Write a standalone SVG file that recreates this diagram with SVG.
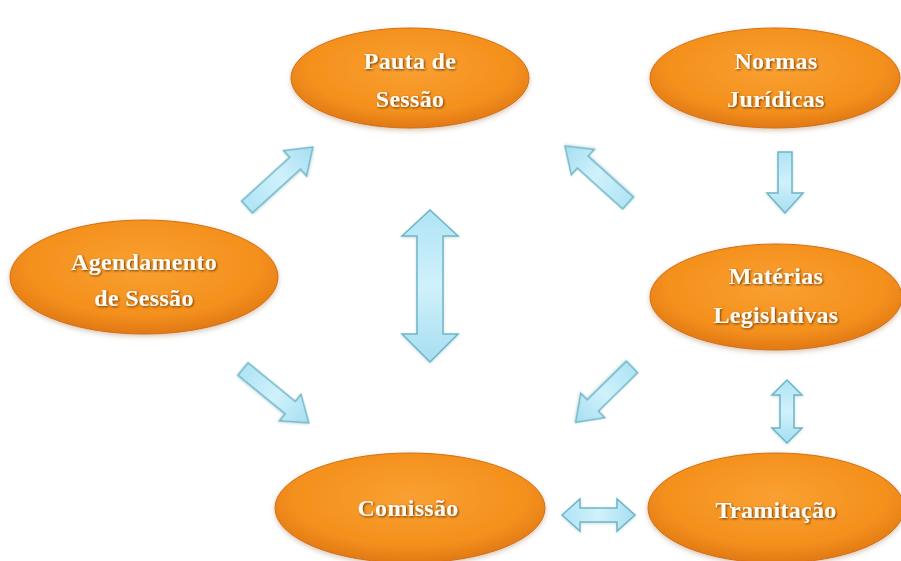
<svg xmlns="http://www.w3.org/2000/svg" width="901" height="561" viewBox="0 0 901 561">
<defs>
  <radialGradient id="og" cx="0.5" cy="0.4" r="0.62">
    <stop offset="0" stop-color="#f9a032"/>
    <stop offset="0.7" stop-color="#f4901c"/>
    <stop offset="1" stop-color="#df7615"/>
  </radialGradient>
  <linearGradient id="bg" x1="0" y1="0" x2="1" y2="0">
    <stop offset="0" stop-color="#b0e4f5"/>
    <stop offset="0.5" stop-color="#d0f1fb"/>
    <stop offset="1" stop-color="#a6def1"/>
  </linearGradient>
  <linearGradient id="bgv" x1="0" y1="0" x2="0" y2="1">
    <stop offset="0" stop-color="#b0e4f5"/>
    <stop offset="0.5" stop-color="#d0f1fb"/>
    <stop offset="1" stop-color="#a6def1"/>
  </linearGradient>
  <filter id="sh" x="-10%" y="-10%" width="120%" height="130%">
    <feDropShadow dx="0" dy="2" stdDeviation="2.5" flood-color="#8a5a2a" flood-opacity="0.35"/>
  </filter>
  <filter id="ts" x="-10%" y="-20%" width="120%" height="150%">
    <feDropShadow dx="1" dy="1" stdDeviation="0.8" flood-color="#5a2a00" flood-opacity="0.85"/>
  </filter>
  <filter id="as" x="-20%" y="-20%" width="140%" height="140%">
    <feDropShadow dx="0" dy="1" stdDeviation="1.5" flood-color="#6a9aa8" flood-opacity="0.35"/>
  </filter>
</defs>
<style>
  .node ellipse { fill: url(#og); stroke: #d26f18; stroke-width: 1; filter: url(#sh); }
  .node text { font-family: "Liberation Serif", "Times New Roman", serif; font-weight: bold; font-size: 24px; letter-spacing: 0.3px; fill: #fffaf0; text-anchor: middle; filter: url(#ts); }
  .arr { fill: url(#bg); stroke: #6db6c6; stroke-width: 1.5; stroke-linejoin: miter; filter: url(#as); }
  .arrv { fill: url(#bgv); stroke: #6db6c6; stroke-width: 1.5; filter: url(#as); }
</style>
<rect width="901" height="561" fill="#ffffff"/>

<g id="connectors">
  <path class="arr" transform="translate(247,207) rotate(-42.3)" d="M0,-8 L65,-8 L65,-17 L89,0 L65,17 L65,8 L0,8 Z"/>
  <path class="arr" transform="translate(628,203) rotate(-137.9)" d="M0,-8 L61,-8 L61,-17 L85,0 L61,17 L61,8 L0,8 Z"/>
  <path class="arrv" d="M778,152 L792,152 L792,193 L803,193 L785,213 L767,193 L778,193 Z"/>
  <path class="arrv" d="M430,210 L458,236 L443,236 L443,334 L458,334 L430,362 L402,334 L417,334 L417,236 L402,236 Z"/>
  <path class="arr" transform="translate(632,367) rotate(135.5)" d="M0,-8 L55,-8 L55,-17 L79,0 L55,17 L55,8 L0,8 Z"/>
  <path class="arr" transform="translate(243,369) rotate(39.3)" d="M0,-8 L61,-8 L61,-17 L85,0 L61,17 L61,8 L0,8 Z"/>
  <path class="arrv" d="M787,380 L802,395 L794,395 L794,428 L802,428 L787,443 L772,428 L780,428 L780,395 L772,395 Z"/>
  <path class="arr" d="M562,515 L580,499 L580,508 L617,508 L617,499 L635,515 L617,531 L617,522 L580,522 L580,531 Z"/>
</g>

<g id="node-pauta" class="node">
  <ellipse cx="410" cy="78" rx="119" ry="50"/>
  <text x="410" y="69">Pauta de</text>
  <text x="410" y="107">Sessão</text>
</g>
<g id="node-normas" class="node">
  <ellipse cx="775" cy="78" rx="125" ry="50"/>
  <text x="776" y="69">Normas</text>
  <text x="776" y="107">Jurídicas</text>
</g>
<g id="node-agendamento" class="node">
  <ellipse cx="144" cy="277" rx="134" ry="57"/>
  <text x="144" y="270">Agendamento</text>
  <text x="144" y="306">de Sessão</text>
</g>
<g id="node-materias" class="node">
  <ellipse cx="776" cy="297" rx="126" ry="53"/>
  <text x="776" y="284">Matérias</text>
  <text x="776" y="323">Legislativas</text>
</g>
<g id="node-comissao" class="node">
  <ellipse cx="410" cy="508" rx="135" ry="55"/>
  <text x="408" y="516">Comissão</text>
</g>
<g id="node-tramitacao" class="node">
  <ellipse cx="776" cy="508" rx="128" ry="55"/>
  <text x="776" y="518">Tramitação</text>
</g>
</svg>
